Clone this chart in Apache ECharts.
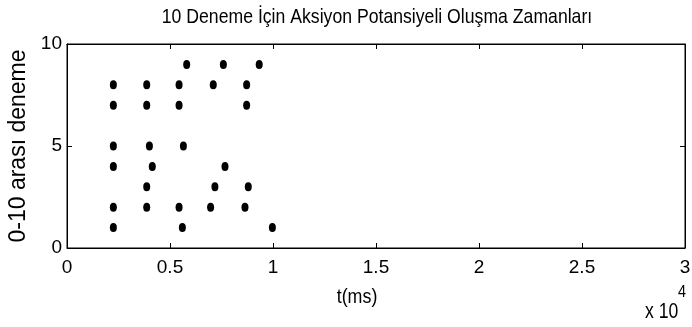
<!DOCTYPE html>
<html><head><meta charset="utf-8">
<script src="https://cdn.jsdelivr.net/npm/echarts@6/dist/echarts.min.js"></script>
<style>html,body{margin:0;padding:0;background:#fff}#c{width:692px;height:327px}</style>
</head><body><div id="c"></div>
<script>
// spike times in ms for each trial (trial number = y)
const trials = [1, 2, 3, 4, 5, 6, 7, 8, 9, 10];
const spikeTimes = {
  1: [2250, 5600, 9970],
  2: [2250, 3870, 5440, 6970, 8640],
  3: [3870, 7180, 8800],
  4: [2250, 4140, 7670],
  5: [2250, 4000, 5650],
  6: [],
  7: [2250, 3870, 5440, 8720],
  8: [2250, 3870, 5440, 7100, 8720],
  9: [5810, 7590, 9330],
  10: []
};
const xTicks = [0, 0.5, 1, 1.5, 2, 2.5, 3];
const yTicks = [0, 5, 10];
const titleText = '10 Deneme İçin Aksiyon Potansiyeli Oluşma Zamanları';
const xName = 't(ms)';
const yName = '0-10 arası deneme';

const points = [];
trials.forEach(t => spikeTimes[t].forEach(ms => points.push([ms, t])));

const F = 'Liberation Sans';
const chart = echarts.init(document.getElementById('c'));
const axisCommon = {
  axisLine: {show: true, onZero: false, lineStyle: {color: '#000', width: 1}},
  axisTick: {show: true, inside: true, length: 5, lineStyle: {color: '#000'}},
  splitLine: {show: false}
};
function narrowText(text, x, y, size, sx, align) {
  return {
    type: 'text', x: x, y: y, scaleX: sx, scaleY: 1, originX: 0, originY: 0,
    style: {text: text, x: 0, y: 0, fill: '#000', font: size + 'px "' + F + '"',
      align: align || 'center', verticalAlign: 'middle'}
  };
}
chart.setOption({
  animation: false,
  grid: {left: 67, right: 7, top: 44, bottom: 79, containLabel: false, outerBoundsMode: 'none',
    show: true, borderColor: '#000', borderWidth: 1},
  xAxis: [
    Object.assign({}, axisCommon, {
      type: 'value', min: 0, max: 30000, interval: 5000, position: 'bottom',
      axisLabel: {fontFamily: F, fontSize: 19, color: '#000', margin: 10,
        formatter: v => String(v / 10000)}
    }),
    Object.assign({}, axisCommon, {
      type: 'value', min: 0, max: 30000, interval: 5000, position: 'top',
      axisLabel: {show: false}
    })
  ],
  yAxis: [
    Object.assign({}, axisCommon, {
      type: 'value', min: 0, max: 10, interval: 5, position: 'left',
      name: yName, nameLocation: 'middle', nameGap: 35,
      nameTextStyle: {fontFamily: F, fontSize: 23, color: '#000'},
      axisLabel: {fontFamily: F, fontSize: 19, color: '#000', margin: 5}
    }),
    Object.assign({}, axisCommon, {
      type: 'value', min: 0, max: 10, interval: 5, position: 'right',
      axisLabel: {show: false}
    })
  ],
  series: [{
    type: 'scatter', xAxisIndex: 0, yAxisIndex: 0,
    data: points, symbol: 'circle', symbolSize: [7, 9],
    itemStyle: {color: '#000', opacity: 1}
  }],
  graphic: [
    narrowText(titleText, 377, 17, 21, 0.84),
    narrowText(xName, 357, 297, 21, 0.85),
    narrowText('x 10', 645, 312, 22, 0.8, 'left'),
    narrowText('4', 678, 292, 17, 0.85, 'left')
  ]
});
</script></body></html>
